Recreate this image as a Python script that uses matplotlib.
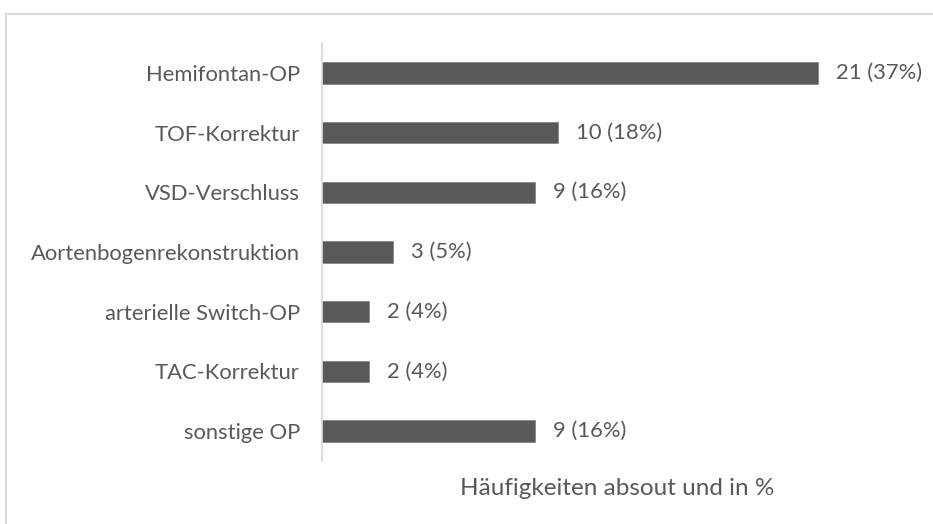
import matplotlib
matplotlib.use("Agg")
import matplotlib.pyplot as plt
from matplotlib.lines import Line2D

categories = ["Hemifontan-OP", "TOF-Korrektur", "VSD-Verschluss",
              "Aortenbogenrekonstruktion", "arterielle Switch-OP",
              "TAC-Korrektur", "sonstige OP"]
counts = [21, 10, 9, 3, 2, 2, 9]
percents = [37, 18, 16, 5, 4, 4, 16]
xlabel = "Häufigkeiten absout und in %"

plt.rcParams['font.family'] = ['Lato', 'DejaVu Sans']
text_color = "#595959"

fig = plt.figure(figsize=(9.33, 5.24), dpi=100)
ax = fig.add_axes([322/933, 1-461/524, (913-322)/933, (461-43)/524])

ypos = list(range(len(categories)))
ax.barh(ypos, counts, height=0.36, color="#595959", edgecolor="#7f7f7f", linewidth=0.5)
ax.set_ylim(len(categories) - 0.5, -0.5)
ax.set_xlim(0, 25)
ax.set_yticks(ypos)
ax.set_yticklabels(categories, fontsize=15.8, color=text_color)
ax.tick_params(axis='y', length=0, pad=16)
ax.set_xticks([])
for s in ["top", "right", "bottom"]:
    ax.spines[s].set_visible(False)
ax.spines["left"].set_color("#d9d9d9")
ax.spines["left"].set_linewidth(1.2)

for y, c, p in zip(ypos, counts, percents):
    ax.annotate(f"{c} ({p}%)", xy=(c, y), xytext=(18, 0), textcoords="offset pixels",
                va="center", ha="left", fontsize=15.8, color=text_color)

ax.set_xlabel(xlabel, fontsize=17.5, color=text_color, labelpad=12.5)

# outer chart-area border (top and left visible)
fig.add_artist(Line2D([6/933, 1], [1-14/524, 1-14/524], transform=fig.transFigure,
                      color="#d9d9d9", linewidth=1.5))
fig.add_artist(Line2D([6/933, 6/933], [0, 1-14/524], transform=fig.transFigure,
                      color="#d9d9d9", linewidth=1.5))

fig.savefig("out.png", dpi=100)
